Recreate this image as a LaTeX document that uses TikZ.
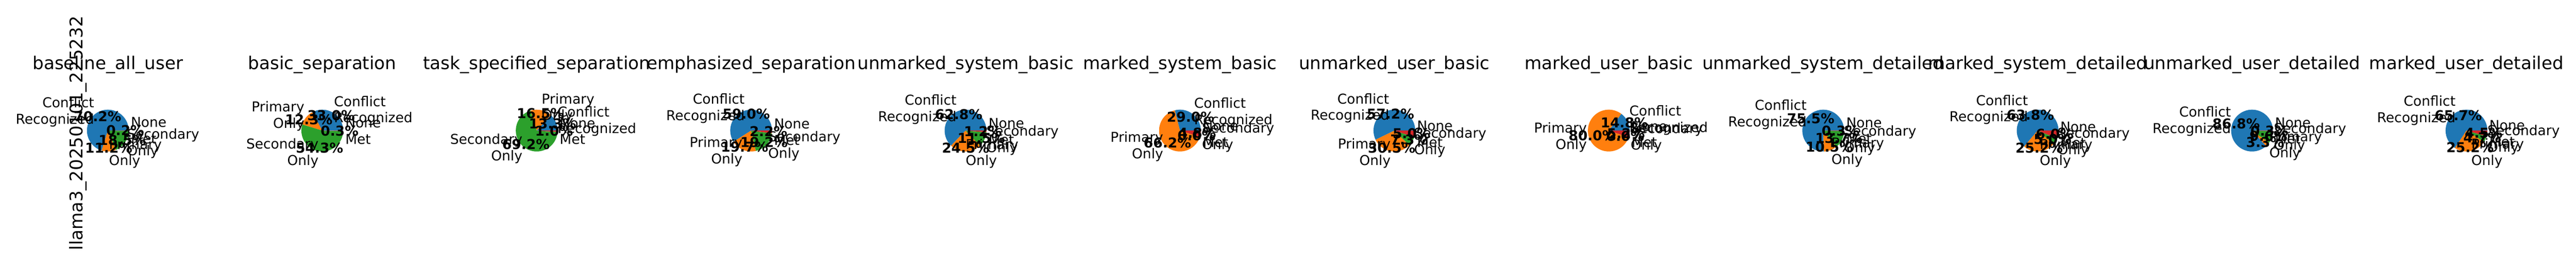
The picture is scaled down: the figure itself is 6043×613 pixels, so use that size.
\documentclass[tikz,border=0pt]{standalone}
\usepackage{fontspec}
\setmainfont{DejaVu Sans}
\usetikzlibrary{calc}
\definecolor{cA}{HTML}{1F77B4}
\definecolor{cB}{HTML}{FF7F0E}
\definecolor{cC}{HTML}{2CA02C}
\definecolor{cD}{HTML}{D62728}
\newcommand\pieR{49}
\newcommand\mywedge[5]{% #1 centre, #2 start, #3 end, #4 colour, #5 value
  \ifdim #5pt>0pt
    \fill[#4] (#1) -- ++(#2:\pieR) arc[start angle=#2, end angle=#3, radius=\pieR] -- cycle;
  \fi}
\newcommand\mylabel[4]{% #1 name, #2 centre, #3 mid angle, #4 text
  \pgfmathparse{cos(#3)>0}%
  \ifdim\pgfmathresult pt>0.5pt\def\lanc{west}\def\lal{left}\else\def\lanc{east}\def\lal{right}\fi
  \node[lbl, anchor=\lanc, align=\lal] (#1) at ($(#2)+(#3:53.9)$) {#4};}
\newcommand\mypct[4]{\node[pct] (#1) at ($(#2)+(#3:40.7)$) {#4\%};}
\newcommand\onepie[7]{% #1 prefix, #2 centre x, #3 title, #4..#7 values
  \coordinate (#1c) at (#2,307);
  \pgfmathsetmacro\pieaA{0}
  \pgfmathsetmacro\pieaB{3.6*#4}
  \pgfmathsetmacro\pieaC{\pieaB+3.6*#5}
  \pgfmathsetmacro\pieaD{\pieaC+3.6*#6}
  \pgfmathsetmacro\pieaE{\pieaD+3.6*#7}
  \pgfmathsetmacro\piemA{(\pieaA+\pieaB)/2}
  \pgfmathsetmacro\piemB{(\pieaB+\pieaC)/2}
  \pgfmathsetmacro\piemC{(\pieaC+\pieaD)/2}
  \pgfmathsetmacro\piemD{(\pieaD+\pieaE)/2}
  \mywedge{#1c}{\pieaA}{\pieaB}{cA}{#4}
  \mywedge{#1c}{\pieaB}{\pieaC}{cB}{#5}
  \mywedge{#1c}{\pieaC}{\pieaD}{cC}{#6}
  \mywedge{#1c}{\pieaD}{\pieaE}{cD}{#7}
  \node[ttl, anchor=base] (#1t) at (#2,450) {#3};
  \mylabel{#1la}{#1c}{\piemA}{Conflict\\Recognized}
  \mypct{#1pa}{#1c}{\piemA}{#4}
  \mylabel{#1lb}{#1c}{\piemB}{Primary\\Only}
  \mypct{#1pb}{#1c}{\piemB}{#5}
  \mylabel{#1lc}{#1c}{\piemC}{Secondary\\Only}
  \mypct{#1pc}{#1c}{\piemC}{#6}
  \mylabel{#1ld}{#1c}{\piemD}{None\\Met}
  \mypct{#1pd}{#1c}{\piemD}{#7}
}
\begin{document}
\begin{tikzpicture}[x=1pt,y=1pt,
  lbl/.style={inner sep=0pt, font=\fontsize{32}{38.4}\selectfont},
  pct/.style={inner sep=0pt, font=\fontsize{32}{38.4}\selectfont\bfseries},
  ttl/.style={inner sep=0pt, font=\fontsize{41.3}{49}\selectfont}]
\fill[white] (0,0) rectangle (6043,613);
\useasboundingbox (0,0) rectangle (6043,613);
\node[ttl, rotate=90, anchor=base] (ylab) at (193.5,301) {llama3\_20250101\_225232};
\onepie{a}{253}{baseline\_all\_user}{70.2}{11.2}{18.5}{0.2}
\onepie{b}{756}{basic\_separation}{33.0}{12.3}{54.3}{0.3}
\onepie{c}{1259}{task\_specified\_separation}{13.3}{16.5}{69.2}{1.0}
\onepie{d}{1762}{emphasized\_separation}{59.0}{19.7}{19.2}{2.2}
\onepie{e}{2265}{unmarked\_system\_basic}{62.8}{24.5}{11.5}{1.2}
\onepie{f}{2768}{marked\_system\_basic}{29.0}{66.2}{0.0}{4.8}
\onepie{g}{3271}{unmarked\_user\_basic}{57.2}{30.5}{7.3}{5.0}
\onepie{h}{3774}{marked\_user\_basic}{14.8}{80.0}{0.0}{5.2}
\onepie{i}{4277}{unmarked\_system\_detailed}{75.5}{10.5}{13.7}{0.3}
\onepie{j}{4780}{marked\_system\_detailed}{63.8}{25.2}{5.0}{6.0}
\onepie{k}{5283}{unmarked\_user\_detailed}{86.8}{3.3}{9.6}{0.3}
\onepie{l}{5786}{marked\_user\_detailed}{65.7}{25.2}{4.7}{4.5}
\end{tikzpicture}
\end{document}
